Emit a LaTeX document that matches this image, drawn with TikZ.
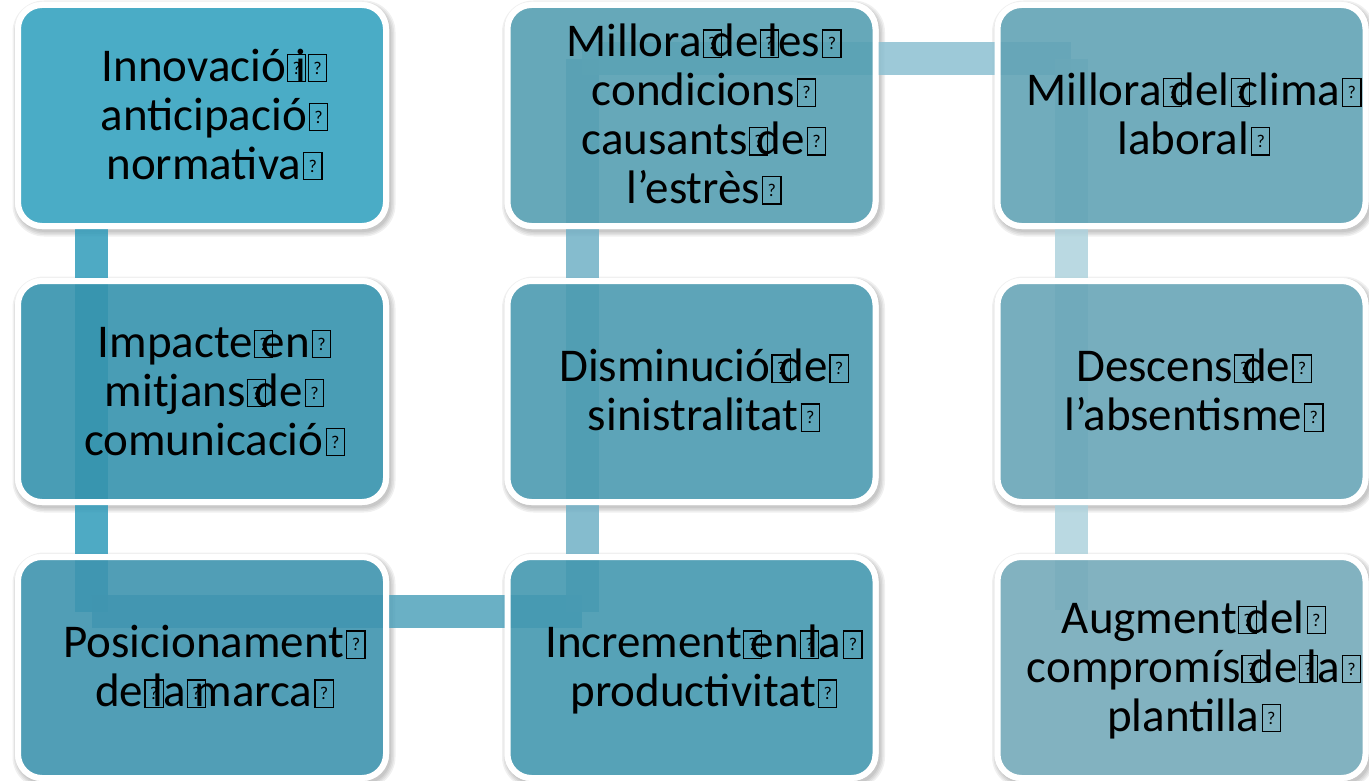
\documentclass[tikz,border=0pt]{standalone}
\usepackage{fontspec}
\setmainfont{Carlito}
\newcommand\lnst{\rule[-10pt]{0pt}{49pt}}
\newcommand\gboxdraw{\begingroup\setlength{\fboxsep}{0pt}\setlength{\fboxrule}{1.2pt}\fbox{\makebox[17pt]{\rule{0pt}{26pt}\raisebox{7pt}{\fontsize{18}{18}\selectfont ?}}}\endgroup}
\newcommand\glyphin{\hspace{1pt}\makebox[8pt][l]{\gboxdraw}}
\newcommand\glyphend{\hspace{2pt}\gboxdraw}
\definecolor{f1}{RGB}{74,172,198}
\definecolor{f2}{RGB}{54,147,173}
\definecolor{f3}{RGB}{63,148,175}
\definecolor{f4}{RGB}{86,159,178}
\definecolor{f5}{RGB}{76,155,177}
\definecolor{f6}{RGB}{68,152,176}
\definecolor{f7}{RGB}{98,163,181}
\definecolor{f8}{RGB}{105,166,183}
\definecolor{f9}{RGB}{117,170,186}
\definecolor{c1}{RGB}{47,155,186}
\definecolor{c2}{RGB}{80,162,187}
\definecolor{c3}{RGB}{112,176,198}
\definecolor{c4}{RGB}{140,192,209}
\definecolor{c5}{RGB}{174,210,221}
\tikzset{
  boxshape/.style={rectangle, rounded corners=24pt, draw=white, line width=6pt,
    minimum width=368pt, minimum height=221pt, inner sep=0pt},
  tbox/.style={boxshape, fill=#1, fill opacity=0.9, draw opacity=1},
  obox/.style={boxshape, fill=#1},
  txt/.style={font=\fontsize{47}{49}\selectfont, align=center, inner sep=0pt, text=black},
  conn/.style={draw=#1, line width=33pt, draw opacity=0.85},
  shadowlayer/.style={fill=black, fill opacity=0.06, rounded corners=#1}
}
\begin{document}
\begin{tikzpicture}[x=1pt,y=-1pt]
\useasboundingbox (0,0) rectangle (1369,781);
% box centres
\coordinate (p1) at (202,115.5);
\coordinate (p2) at (202,391.5);
\coordinate (p3) at (202,667.5);
\coordinate (p4) at (691.5,115.5);
\coordinate (p5) at (691.5,391.5);
\coordinate (p6) at (691.5,667.5);
\coordinate (p7) at (1181.5,115.5);
\coordinate (p8) at (1181.5,391.5);
\coordinate (p9) at (1181.5,667.5);
% soft shadows and white bases
\foreach \p in {p1,p2,p3,p4,p5,p6,p7,p8,p9}{
  \foreach \s in {0,1.5,3,4.5}{
    \path[shadowlayer=27+\s] ([shift={(-187+2-\s,-113.5+3-\s)}]\p) rectangle ([shift={(187+2+\s,113.5+3+\s)}]\p);
  }
  \path[fill=white, rounded corners=27] ([shift={(-187,-113.5)}]\p) rectangle ([shift={(187,113.5)}]\p);
}
% connectors
\coordinate (k1) at (91.5,115.5);
\coordinate (k2) at (91.5,611.5);
\coordinate (k3) at (582,611.5);
\coordinate (k4) at (582,59);
\coordinate (k5) at (1071,59);
\coordinate (k6) at (1071,610);
\draw[conn=c1] (k1) -- (k2);
\draw[conn=c2] (k2) -- (k3);
\draw[conn=c3] (k3) -- (k4);
\draw[conn=c4] (k4) -- (k5);
\draw[conn=c5] (k5) -- (k6);
% boxes
\node[obox=f1] (b1) at (p1) {};
\node[tbox=f2] (b2) at (p2) {};
\node[tbox=f3] (b3) at (p3) {};
\node[tbox=f4] (b4) at (p4) {};
\node[tbox=f5] (b5) at (p5) {};
\node[tbox=f6] (b6) at (p6) {};
\node[tbox=f7] (b7) at (p7) {};
\node[tbox=f8] (b8) at (p8) {};
\node[tbox=f9] (b9) at (p9) {};
% texts
\node[txt] (t1) at ([xshift=12.5pt]b1.center) {\lnst Innovació\glyphin i\glyphend\\\lnst anticipació\glyphend\\\lnst normativa\glyphend};
\node[txt] (t2) at ([xshift=12.5pt]b2.center) {\lnst Impacte\glyphin en\glyphend\\\lnst mitjans\glyphin de\glyphend\\\lnst comunicació\glyphend};
\node[txt] (t3) at ([xshift=12.5pt]b3.center) {\lnst Posicionament\glyphend\\\lnst de\glyphin la\glyphin marca\glyphend};
\node[txt] (t4) at ([xshift=12.5pt]b4.center) {\lnst Millora\glyphin de\glyphin les\glyphend\\\lnst condicions\glyphend\\\lnst causants\glyphin de\glyphend\\\lnst l’estrès\glyphend};
\node[txt] (t5) at ([xshift=12.5pt]b5.center) {\lnst Disminució\glyphin de\glyphend\\\lnst sinistralitat\glyphend};
\node[txt] (t6) at ([xshift=12.5pt]b6.center) {\lnst Increment\glyphin en\glyphin la\glyphend\\\lnst productivitat\glyphend};
\node[txt] (t7) at ([xshift=12.5pt]b7.center) {\lnst Millora\glyphin del\glyphin clima\glyphend\\\lnst laboral\glyphend};
\node[txt] (t8) at ([xshift=12.5pt]b8.center) {\lnst Descens\glyphin de\glyphend\\\lnst l’absentisme\glyphend};
\node[txt] (t9) at ([xshift=12.5pt]b9.center) {\lnst Augment\glyphin del\glyphend\\\lnst compromís\glyphin de\glyphin la\glyphend\\\lnst plantilla\glyphend};
\end{tikzpicture}
\end{document}
